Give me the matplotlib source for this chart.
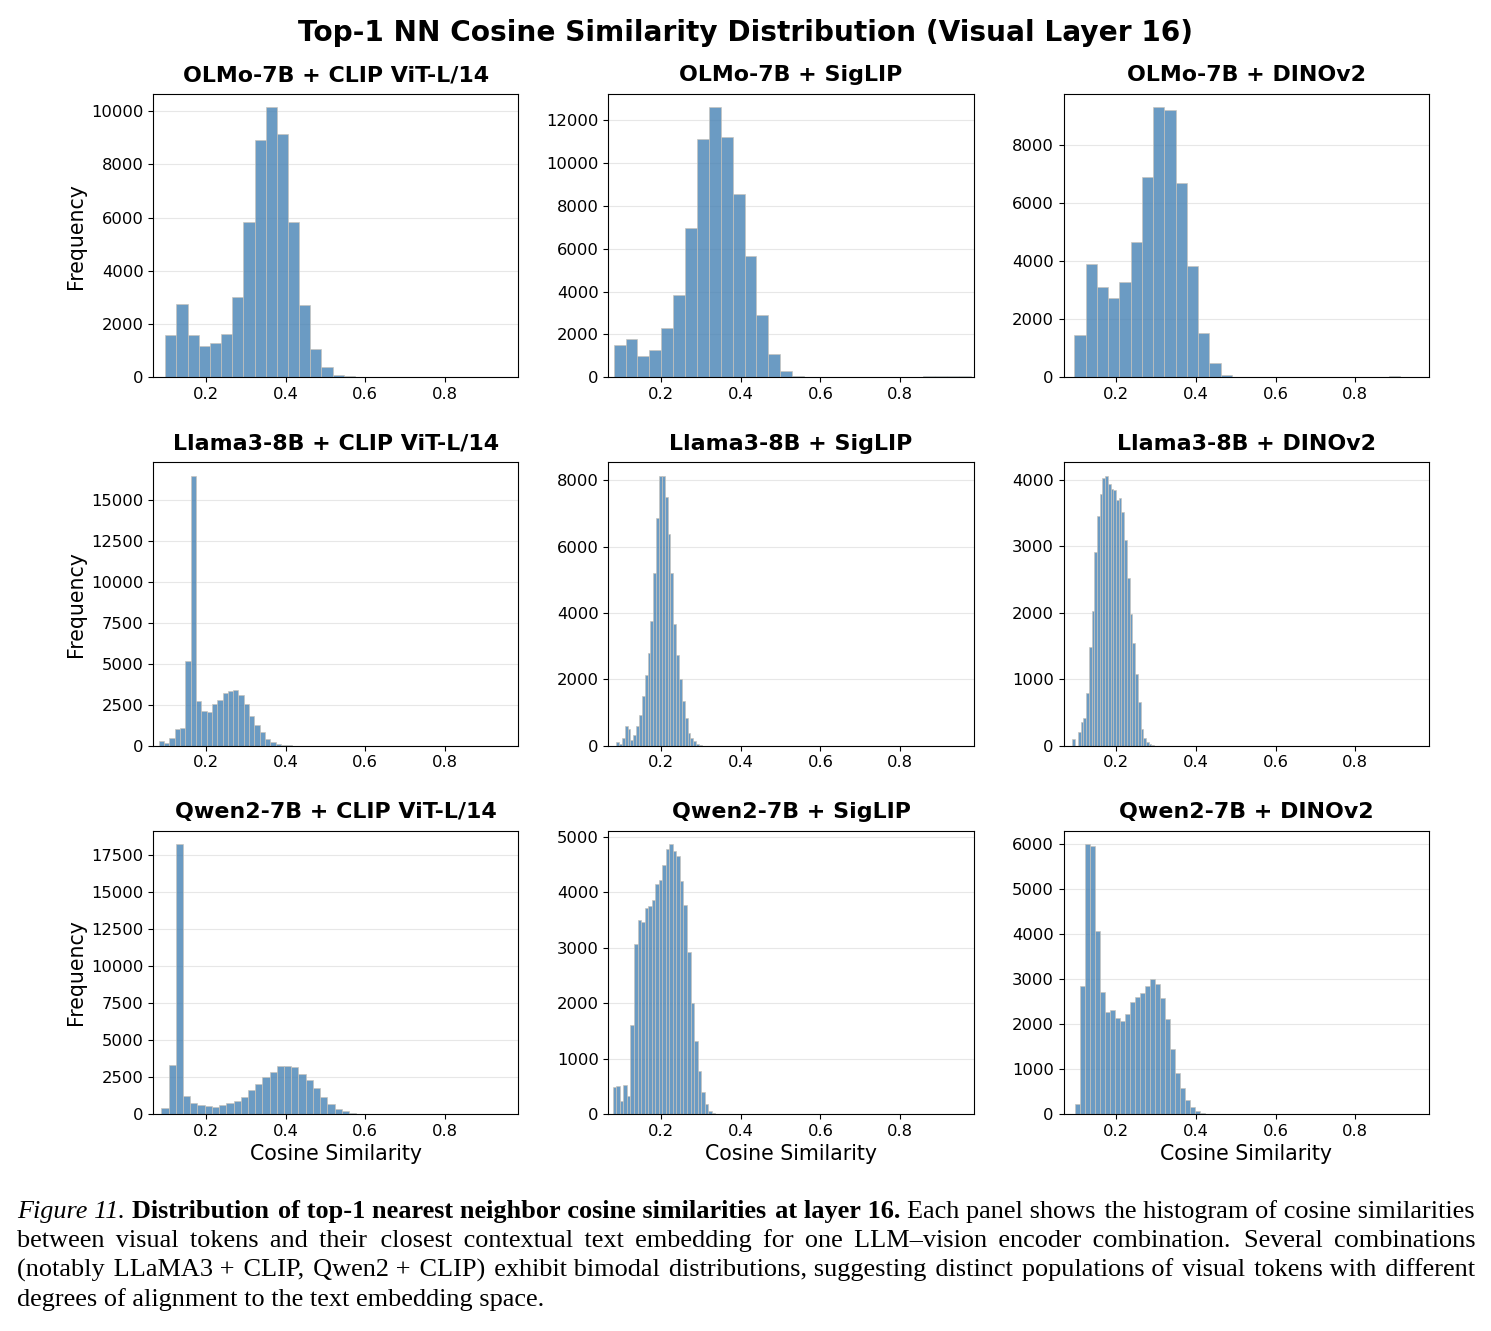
import numpy as np
import matplotlib
matplotlib.use("Agg")
import matplotlib.pyplot as plt

# ---- data (bin range + counts per panel) ----
titles = [
    "OLMo-7B + CLIP ViT-L/14", "OLMo-7B + SigLIP", "OLMo-7B + DINOv2",
    "Llama3-8B + CLIP ViT-L/14", "Llama3-8B + SigLIP", "Llama3-8B + DINOv2",
    "Qwen2-7B + CLIP ViT-L/14", "Qwen2-7B + SigLIP", "Qwen2-7B + DINOv2",
]

olmo_clip_range = (0.098, 0.938)
olmo_clip = [1600, 2740, 1580, 1190, 1290, 1640, 3030, 5820, 8900, 10140,
             9150, 5820, 2700, 1050, 390, 100, 50, 25, 12, 8,
             5, 4, 3, 2, 2, 1, 1, 1, 1, 1]

olmo_siglip_range = (0.081, 0.977)
olmo_siglip = [1510, 1790, 1010, 1290, 2310, 3830, 6970, 11100, 12590, 11200,
               8540, 5640, 2910, 1090, 280, 50, 12, 6, 4, 3,
               3, 5, 8, 12, 18, 30, 45, 65, 75, 45]

olmo_dino_range = (0.0954, 0.941)
olmo_dino = [1470, 3900, 3120, 2740, 3280, 4680, 6890, 9300, 9220, 6710,
             3830, 1540, 505, 92, 15, 5, 3, 2, 1, 1,
             1, 1, 1, 1, 2, 5, 10, 25, 30, 5]

llama_clip_range = (0.0817, 0.4817)
llama_clip = [306, 163, 490, 1000, 1100, 5160, 16490, 2735, 2140, 2080,
              2570, 2815, 3200, 3330, 3390, 3080, 2530, 1840, 1245, 815,
              390, 205, 80, 30, 12, 5, 3, 2, 1, 1]

llama_siglip_range = (0.0874, 0.3026)
llama_siglip = [120, 50, 220, 585, 495, 170, 310, 585, 925, 1490,
                2145, 2805, 3750, 5200, 6870, 8140, 8140, 7490, 6375, 5200,
                3680, 2725, 2010, 1350, 835, 390, 220, 130, 50, 20]

llama_dino_range = (0.0904, 0.2953)
llama_dino = [100, 0, 200, 350, 420, 800, 1490, 2020, 2910, 3460,
              3790, 4020, 4060, 3935, 3865, 3840, 3690, 3730, 3520, 3095,
              2520, 1980, 1540, 1075, 655, 250, 110, 50, 20, 5]

qwen_clip_range = (0.0883, 0.6313)
qwen_clip = [383, 3315, 18245, 1195, 722, 586, 519, 496, 609, 722,
             902, 1150, 1601, 2030, 2481, 2864, 3225, 3270, 3157, 2684,
             2278, 1737, 1150, 677, 361, 180, 80, 30, 10, 5]

qwen_siglip_range = (0.079, 0.345)
qwen_siglip = [490, 505, 230, 525, 330, 1600, 3060, 3500, 3460, 3720,
               3760, 3860, 4150, 4230, 4490, 4780, 4870, 4740, 4660, 4200,
               3780, 2930, 2000, 1320, 770, 400, 190, 50, 20, 5]

qwen_dino_range = (0.097, 0.4735)
qwen_dino = [215, 2837, 5993, 5956, 4059, 2719, 2259, 2304, 2133, 2059,
             2230, 2481, 2593, 2681, 2837, 3007, 2896, 2570, 2111, 1452,
             919, 578, 319, 148, 74, 30, 10, 5, 2, 1]

ranges = [olmo_clip_range, olmo_siglip_range, olmo_dino_range,
          llama_clip_range, llama_siglip_range, llama_dino_range,
          qwen_clip_range, qwen_siglip_range, qwen_dino_range]
counts = [olmo_clip, olmo_siglip, olmo_dino,
          llama_clip, llama_siglip, llama_dino,
          qwen_clip, qwen_siglip, qwen_dino]

caption_lines = [
    [("Figure 11.", "italic"),
     ("Distribution of top-1 nearest neighbor cosine similarities at layer 16.", "bold"),
     ("Each panel shows the histogram of cosine similarities", "normal")],
    [("between visual tokens and their closest contextual text embedding for one "
      "LLM\u2013vision encoder combination.  Several combinations", "normal")],
    [("(notably LLaMA3 + CLIP, Qwen2 + CLIP) exhibit bimodal distributions, suggesting "
      "distinct populations of visual tokens with different", "normal")],
    [("degrees of alignment to the text embedding space.", "normal")],
]

# ---- figure ----
W, H = 1491, 1331
fig = plt.figure(figsize=(W / 100, H / 100), dpi=100)
axes = fig.subplots(3, 3)
fig.subplots_adjust(left=0.1028, right=0.9582, bottom=0.163, top=0.9294,
                    wspace=0.2466, hspace=0.30)

fig.text(0.5, 1 - 33 / H, "Top-1 NN Cosine Similarity Distribution (Visual Layer 16)",
         ha="center", va="center", fontsize=20.2, fontweight="bold")

for i, ax in enumerate(axes.flat):
    lo, hi = ranges[i]
    c = np.array(counts[i], dtype=float)
    edges = np.linspace(lo, hi, len(c) + 1)
    ax.hist(edges[:-1], bins=edges, weights=c, color="steelblue", alpha=0.8,
            edgecolor="#c8c4bc", linewidth=0.6)
    ax.set_xlim(0.068, 0.984)
    ax.set_xticks([0.2, 0.4, 0.6, 0.8])
    ax.set_axisbelow(True)
    ax.grid(axis="y", alpha=0.3)
    ax.set_title(titles[i], fontsize=15.9, fontweight="bold", pad=9)
    ax.tick_params(labelsize=11.8)
    if i % 3 == 0:
        ax.set_ylabel("Frequency", fontsize=14.8)
    if i >= 6:
        ax.set_xlabel("Cosine Similarity", fontsize=14.8)

# ---- caption: one text per style run, justified with hair spaces ----
cap_size = 18.9
cap_left, cap_right = 17, 1475
cap_base = [1218, 1247, 1277, 1306]
cap_family = ["Liberation Serif", "DejaVu Serif"]
renderer = fig.canvas.get_renderer()
HAIR = "\u200a"


def cap_kw(style):
    return dict(fontsize=cap_size, family=cap_family, va="baseline", ha="left",
                style="italic" if style == "italic" else "normal",
                weight="bold" if style == "bold" else "normal")


def text_w(s, style="normal"):
    t = fig.text(0, 0, s, **cap_kw(style))
    w = t.get_window_extent(renderer).width
    t.remove()
    return w


space_w = text_w("a a") - text_w("aa")
hair_w = (text_w("a" + HAIR * 20 + "a") - text_w("aa")) / 20

for li, line in enumerate(caption_lines):
    seg_words = [seg.split() for seg, _ in line]
    n_gaps = sum(len(w) - 1 for w in seg_words) + len(line) - 1
    justify = li < len(caption_lines) - 1
    if justify:
        word_w = sum(text_w(w, st) for ws, (_, st) in zip(seg_words, line) for w in ws)
        gap_px = (cap_right - cap_left - word_w) / n_gaps
    else:
        gap_px = space_w
    k_float = gap_px / hair_w
    acc = 0.0
    x = cap_left
    for si, (words, (_, st)) in enumerate(zip(seg_words, line)):
        if justify:
            s = words[0]
            for w in words[1:]:
                acc += k_float
                k = int(round(acc))
                acc -= k
                s += HAIR * k + w
        else:
            s = " ".join(words)
        t = fig.text(x / W, 1 - cap_base[li] / H, s, **cap_kw(st))
        x += t.get_window_extent(renderer).width
        if si < len(line) - 1:
            if justify:
                acc += k_float
                k = int(round(acc))
                acc -= k
                x += k * hair_w
            else:
                x += space_w

fig.savefig("out.png", dpi=100)
